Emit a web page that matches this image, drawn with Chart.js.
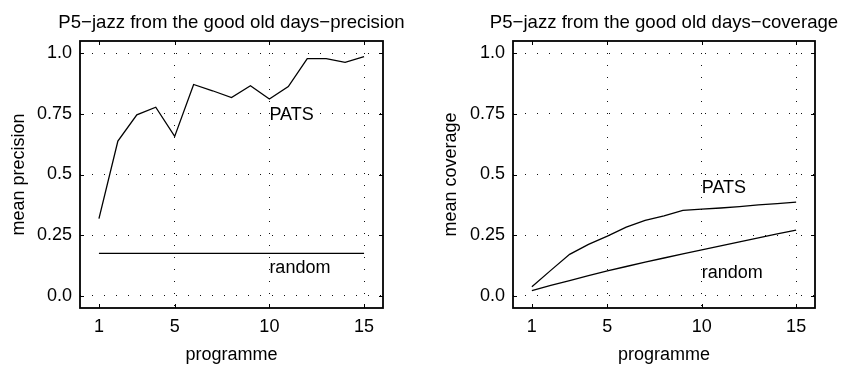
<!DOCTYPE html>
<html>
<head>
<meta charset="utf-8">
<script src="https://cdn.jsdelivr.net/npm/chart.js@4/dist/chart.umd.min.js"></script>
<style>
  html, body { margin: 0; padding: 0; background: #fff; }
  #wrap { position: relative; width: 841px; height: 367px; overflow: hidden; }
  canvas { position: absolute; top: 0; }
</style>
</head>
<body>
<div id="wrap">
  <canvas id="c1" width="420" height="367" style="left:0px"></canvas>
  <canvas id="c2" width="421" height="367" style="left:420px"></canvas>
</div>
<script>
// ---- data ----
const programmes = [1, 2, 3, 4, 5, 6, 7, 8, 9, 10, 11, 12, 13, 14, 15];
const precisionPATS = [0.318, 0.638, 0.746, 0.777, 0.657, 0.871, 0.845, 0.817, 0.866, 0.811, 0.862, 0.977, 0.977, 0.962, 0.986];
const precisionRandom = [0.175, 0.175, 0.175, 0.175, 0.175, 0.175, 0.175, 0.175, 0.175, 0.175, 0.175, 0.175, 0.175, 0.175, 0.175];
const coveragePATS = [0.038, 0.105, 0.171, 0.212, 0.246, 0.283, 0.311, 0.330, 0.352, 0.357, 0.362, 0.368, 0.375, 0.380, 0.386];
const coverageRandom = [0.022, 0.043, 0.063, 0.083, 0.103, 0.121, 0.139, 0.156, 0.173, 0.189, 0.206, 0.222, 0.239, 0.255, 0.271];
const xTickValues = [1, 5, 10, 15];
const yTickValues = [0, 0.25, 0.5, 0.75, 1.0];
const yTickLabels = ['0.0', '0.25', '0.5', '0.75', '1.0'];
const seriesNames = ['PATS', 'random'];
const titles = ['P5\u2212jazz from the good old days\u2212precision', 'P5\u2212jazz from the good old days\u2212coverage'];
const yTitles = ['mean precision', 'mean coverage'];
const xTitle = 'programme';
// label anchor positions (data coordinates)
const labelPosPrecision = [[10, 0.75], [10, 0.12]];
const labelPosCoverage = [[10, 0.45], [10, 0.10]];

const FONT = '"Liberation Sans", Arial, Helvetica, sans-serif';
Chart.defaults.font.family = FONT;
Chart.defaults.font.size = 18;
Chart.defaults.color = '#000';

function toPoints(vals) { return programmes.map((p, i) => ({ x: p, y: vals[i] })); }

function makeChart(id, cfg) {
  const boxPlugin = {
    id: 'box' + id,
    afterDraw(chart) {
      const ctx = chart.ctx;
      const a = chart.chartArea;
      const xs = chart.scales.x, ys = chart.scales.y;
      ctx.save();
      // tick marks (inward)
      ctx.strokeStyle = '#000';
      ctx.lineWidth = 1;
      const tl = 4;
      ctx.beginPath();
      xTickValues.forEach(v => {
        const px = Math.round(xs.getPixelForValue(v)) + 0.5;
        ctx.moveTo(px, a.bottom); ctx.lineTo(px, a.bottom - tl);
        ctx.moveTo(px, a.top); ctx.lineTo(px, a.top + tl);
      });
      yTickValues.forEach(v => {
        const py = Math.round(ys.getPixelForValue(v)) + 0.5;
        ctx.moveTo(a.left, py); ctx.lineTo(a.left + tl, py);
        ctx.moveTo(a.right, py); ctx.lineTo(a.right - tl, py);
      });
      ctx.stroke();
      // box
      ctx.lineWidth = 1.8;
      ctx.strokeRect(a.left, a.top, a.right - a.left, a.bottom - a.top);
      // texts
      ctx.fillStyle = '#000';
      ctx.textBaseline = 'alphabetic';
      ctx.textAlign = 'center';
      ctx.font = '18.6px ' + FONT;
      ctx.fillText(cfg.title, (a.left + a.right) / 2, 28);
      ctx.font = '18px ' + FONT;
      ctx.fillText(xTitle, (a.left + a.right) / 2, 359.5);
      ctx.save();
      ctx.translate(cfg.yTitleX, (a.top + a.bottom) / 2);
      ctx.rotate(-Math.PI / 2);
      ctx.textBaseline = 'middle';
      ctx.fillText(cfg.yTitle, 0, 0);
      ctx.restore();
      ctx.textAlign = 'left';
      cfg.labels.forEach((pos, i) => {
        const px = xs.getPixelForValue(pos[0]);
        const py = ys.getPixelForValue(pos[1]) + 6.5;
        ctx.fillText(seriesNames[i], px, py);
      });
      ctx.restore();
    }
  };
  return new Chart(document.getElementById(id), {
    type: 'line',
    data: {
      datasets: cfg.series.map((vals, i) => ({
        label: seriesNames[i],
        data: toPoints(vals),
        borderColor: '#000',
        borderWidth: 1.3,
        pointRadius: 0,
        tension: 0,
        fill: false
      }))
    },
    options: {
      responsive: false,
      animation: false,
      devicePixelRatio: 1,
      events: [],
      layout: { padding: { left: 0, right: cfg.padRight, top: 41, bottom: 0 } },
      plugins: { legend: { display: false }, title: { display: false }, tooltip: { enabled: false } },
      scales: {
        x: {
          type: 'linear',
          min: 0, max: 16,
          afterBuildTicks: s => { s.ticks = xTickValues.map(v => ({ value: v })); },
          afterFit: s => { s.height = 59; },
          ticks: { padding: 8, autoSkip: false, maxRotation: 0, font: { size: 18 }, callback: v => String(v) },
          grid: {
            drawTicks: false,
            color: c => (c.tick && c.tick.value === 1) ? 'rgba(0,0,0,0)' : '#111',
            lineWidth: 1
          },
          border: { display: false, dash: [1, 11], dashOffset: 0 }
        },
        y: {
          type: 'linear',
          min: -0.05, max: 1.05,
          afterBuildTicks: s => { s.ticks = yTickValues.map(v => ({ value: v })); },
          afterFit: s => { s.width = cfg.yWidth; },
          ticks: {
            padding: 8, font: { size: 18 },
            callback: v => { const i = yTickValues.indexOf(v); return i >= 0 ? yTickLabels[i] : ''; }
          },
          grid: { drawTicks: false, color: '#111', lineWidth: 1 },
          border: { display: false, dash: [1, 11], dashOffset: 0 }
        }
      }
    },
    plugins: [boxPlugin]
  });
}

makeChart('c1', {
  title: titles[0], yTitle: yTitles[0], yTitleX: 19,
  series: [precisionPATS, precisionRandom], labels: labelPosPrecision,
  yWidth: 80, padRight: 37
});
makeChart('c2', {
  title: titles[1], yTitle: yTitles[1], yTitleX: 31,
  series: [coveragePATS, coverageRandom], labels: labelPosCoverage,
  yWidth: 93, padRight: 26
});
</script>
</body>
</html>
